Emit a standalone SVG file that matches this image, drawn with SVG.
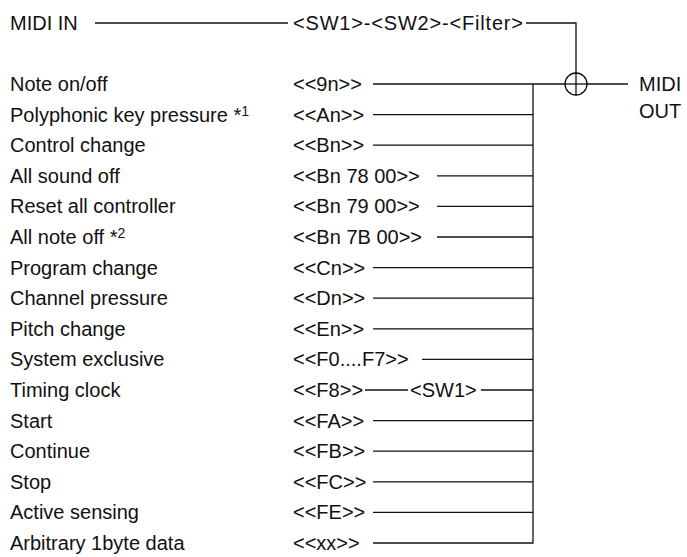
<svg xmlns="http://www.w3.org/2000/svg" width="687" height="557" viewBox="0 0 687 557">
<style>
text{font-family:"Liberation Sans",Arial,sans-serif;font-size:20px;fill:#111}
.s{font-size:14px}
line,circle,path{stroke:#111;stroke-width:1.3;fill:none}
</style>
<rect width="687" height="557" fill="#fff"/>
<g id="labels">
<text x="10" y="30">MIDI IN</text>
<text x="293" y="30" textLength="230">&lt;SW1&gt;-&lt;SW2&gt;-&lt;Filter&gt;</text>
<text x="639" y="91">MIDI</text>
<text x="639" y="118">OUT</text>
</g>
<g id="messages">
<text x="10" y="91">Note on/off</text><text x="293" y="91">&lt;&lt;9n&gt;&gt;</text>
<text x="10" y="121.6">Polyphonic key pressure *<tspan class="s" dy="-6">1</tspan></text><text x="293" y="121.6">&lt;&lt;An&gt;&gt;</text>
<text x="10" y="152.2">Control change</text><text x="293" y="152.2">&lt;&lt;Bn&gt;&gt;</text>
<text x="10" y="182.8">All sound off</text><text x="293" y="182.8">&lt;&lt;Bn 78 00&gt;&gt;</text>
<text x="10" y="213.4">Reset all controller</text><text x="293" y="213.4">&lt;&lt;Bn 79 00&gt;&gt;</text>
<text x="10" y="244">All note off *<tspan class="s" dy="-6">2</tspan></text><text x="293" y="244">&lt;&lt;Bn 7B 00&gt;&gt;</text>
<text x="10" y="274.6">Program change</text><text x="293" y="274.6">&lt;&lt;Cn&gt;&gt;</text>
<text x="10" y="305.2">Channel pressure</text><text x="293" y="305.2">&lt;&lt;Dn&gt;&gt;</text>
<text x="10" y="335.8">Pitch change</text><text x="293" y="335.8">&lt;&lt;En&gt;&gt;</text>
<text x="10" y="366.4">System exclusive</text><text x="293" y="366.4">&lt;&lt;F0....F7&gt;&gt;</text>
<text x="10" y="397">Timing clock</text><text x="293" y="397">&lt;&lt;F8&gt;&gt;</text><text x="410" y="397">&lt;SW1&gt;</text>
<text x="10" y="427.6">Start</text><text x="293" y="427.6">&lt;&lt;FA&gt;&gt;</text>
<text x="10" y="458.2">Continue</text><text x="293" y="458.2">&lt;&lt;FB&gt;&gt;</text>
<text x="10" y="488.8">Stop</text><text x="293" y="488.8">&lt;&lt;FC&gt;&gt;</text>
<text x="10" y="519.4">Active sensing</text><text x="293" y="519.4">&lt;&lt;FE&gt;&gt;</text>
<text x="10" y="550">Arbitrary 1byte data</text><text x="293" y="550">&lt;&lt;xx&gt;&gt;</text>
</g>
<g id="connectors">
<line x1="95" y1="23" x2="288" y2="23"/>
<path d="M526 23 H576 V73"/>
<circle cx="576" cy="84" r="11"/>
<line x1="576" y1="73" x2="576" y2="95"/>
<line x1="565" y1="84" x2="587" y2="84"/>
<line x1="587" y1="84" x2="628" y2="84"/>
<line x1="373" y1="84" x2="565" y2="84"/>
<line x1="533" y1="84" x2="533" y2="543.6" stroke="#444" stroke-width="1.6"/>
<line x1="373" y1="114.6" x2="533" y2="114.6"/>
<line x1="373" y1="145.2" x2="533" y2="145.2"/>
<line x1="437" y1="175.8" x2="533" y2="175.8"/>
<line x1="437" y1="206.4" x2="533" y2="206.4"/>
<line x1="437" y1="237" x2="533" y2="237"/>
<line x1="373" y1="267.6" x2="533" y2="267.6"/>
<line x1="373" y1="298.2" x2="533" y2="298.2"/>
<line x1="373" y1="328.8" x2="533" y2="328.8"/>
<line x1="422" y1="359.4" x2="533" y2="359.4"/>
<line x1="365" y1="390" x2="408" y2="390"/>
<line x1="481" y1="390" x2="533" y2="390"/>
<line x1="373" y1="420.6" x2="533" y2="420.6"/>
<line x1="373" y1="451.2" x2="533" y2="451.2"/>
<line x1="373" y1="481.8" x2="533" y2="481.8"/>
<line x1="373" y1="512.4" x2="533" y2="512.4"/>
<line x1="373" y1="543" x2="533" y2="543"/>
</g>
</svg>
